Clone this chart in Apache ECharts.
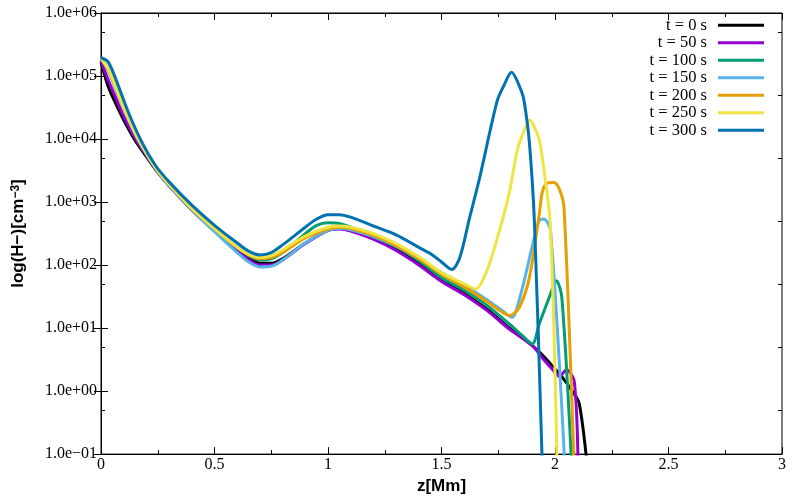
<!DOCTYPE html>
<html>
<head>
<meta charset="utf-8">
<script src="https://cdn.jsdelivr.net/npm/echarts@6/dist/echarts.min.js"></script>
<style>
  html, body { margin: 0; padding: 0; background: #fff; }
  #chart { width: 800px; height: 500px; }
</style>
</head>
<body>
<div id="chart"></div>
<script>
  // z [Mm] and H- density [cm^-3] per time step
  var names = ['t = 0 s', 't = 50 s', 't = 100 s', 't = 150 s', 't = 200 s', 't = 250 s', 't = 300 s'];
  var colors = ['#000000', '#9400d3', '#009e73', '#56b4e9', '#e69f00', '#f0e442', '#0072b2'];

  var z0 = [0, 0.03, 0.06, 0.1, 0.15, 0.2, 0.25, 0.3, 0.4, 0.5, 0.6, 0.65, 0.7, 0.75, 0.8, 0.9, 1.0, 1.05, 1.1, 1.2, 1.3, 1.4, 1.5, 1.6, 1.7, 1.8, 1.9, 1.95, 2.0, 2.03, 2.07, 2.107, 2.15];
  var n0 = [1.66e5, 7.08e4, 3.98e4, 2.0e4, 9.55e3, 5.25e3, 2.95e3, 1.82e3, 759, 355, 178, 132, 107, 107, 126, 224, 355, 380, 355, 263, 178, 105, 57.5, 35.5, 20.0, 10.0, 5.25, 3.55, 2.24, 1.70, 1.07, 0.63, 0.032];

  var z1 = [0, 0.03, 0.06, 0.1, 0.15, 0.2, 0.25, 0.3, 0.4, 0.5, 0.6, 0.65, 0.7, 0.75, 0.8, 0.9, 1.0, 1.05, 1.1, 1.2, 1.3, 1.4, 1.5, 1.6, 1.7, 1.8, 1.9, 1.95, 1.99, 2.02, 2.05, 2.085, 2.102];
  var n1 = [1.78e5, 8.91e4, 5.01e4, 2.29e4, 1.05e4, 5.50e3, 3.02e3, 1.82e3, 759, 347, 170, 123, 100, 100, 120, 219, 355, 372, 347, 257, 170, 100, 55.0, 33.9, 19.1, 9.55, 5.25, 3.16, 2.19, 1.70, 2.19, 1.41, 0.05];

  var z2 = [0, 0.03, 0.06, 0.1, 0.15, 0.2, 0.25, 0.3, 0.4, 0.5, 0.6, 0.65, 0.7, 0.75, 0.8, 0.9, 0.95, 1.0, 1.05, 1.1, 1.2, 1.3, 1.4, 1.5, 1.6, 1.7, 1.8, 1.85, 1.9, 1.93, 1.975, 2.006, 2.03, 2.075];
  var n2 = [1.91e5, 1.26e5, 7.08e4, 3.16e4, 1.26e4, 6.03e3, 3.16e3, 1.91e3, 794, 372, 191, 141, 120, 126, 158, 316, 427, 468, 457, 398, 282, 195, 117, 63.1, 39.8, 22.9, 11.5, 7.94, 5.62, 11.5, 30.9, 56.2, 30.9, 0.05];

  var z3 = [0, 0.03, 0.06, 0.1, 0.15, 0.2, 0.25, 0.3, 0.4, 0.5, 0.6, 0.65, 0.7, 0.75, 0.8, 0.9, 1.0, 1.05, 1.1, 1.2, 1.3, 1.4, 1.5, 1.6, 1.7, 1.77, 1.81, 1.85, 1.9, 1.93, 1.95, 1.98, 2.045];
  var n3 = [1.91e5, 1.26e5, 7.08e4, 3.02e4, 1.20e4, 5.75e3, 3.02e3, 1.82e3, 759, 339, 158, 112, 93.3, 95.5, 120, 224, 355, 380, 363, 282, 200, 126, 75.9, 47.9, 28.2, 18.6, 14.8, 35.5, 200, 501, 537, 363, 0.05];

  var z4 = [0, 0.03, 0.06, 0.1, 0.15, 0.2, 0.25, 0.3, 0.4, 0.5, 0.6, 0.65, 0.7, 0.75, 0.8, 0.9, 1.0, 1.05, 1.1, 1.2, 1.3, 1.4, 1.5, 1.6, 1.7, 1.76, 1.8, 1.843, 1.887, 1.93, 1.945, 1.966, 1.995, 2.02, 2.04, 2.085];
  var n4 = [1.91e5, 1.32e5, 7.59e4, 3.16e4, 1.26e4, 6.03e3, 3.16e3, 1.91e3, 794, 380, 191, 145, 126, 132, 158, 269, 372, 398, 380, 295, 204, 126, 70.8, 44.7, 26.3, 18.6, 15.8, 21.4, 63.1, 617, 1.48e3, 2.0e3, 2.04e3, 1.58e3, 794, 0.05];

  var z5 = [0, 0.03, 0.06, 0.1, 0.15, 0.2, 0.25, 0.3, 0.4, 0.5, 0.6, 0.65, 0.7, 0.75, 0.8, 0.9, 1.0, 1.05, 1.1, 1.2, 1.3, 1.4, 1.5, 1.6, 1.65, 1.7, 1.755, 1.8, 1.835, 1.874, 1.89, 1.91, 1.93, 1.95, 1.98, 2.01];
  var n5 = [1.91e5, 1.32e5, 7.41e4, 3.16e4, 1.26e4, 6.03e3, 3.16e3, 1.91e3, 794, 380, 191, 148, 132, 141, 174, 288, 398, 417, 398, 316, 219, 135, 75.9, 50.1, 41.7, 81.3, 347, 1.48e3, 6.92e3, 1.66e4, 2.0e4, 1.51e4, 1.0e4, 3.55e3, 398, 0.05];

  var z6 = [0, 0.03, 0.06, 0.12, 0.18, 0.24, 0.3, 0.4, 0.5, 0.6, 0.65, 0.7, 0.75, 0.8, 0.9, 0.95, 1.0, 1.05, 1.1, 1.2, 1.3, 1.4, 1.46, 1.5, 1.545, 1.58, 1.623, 1.667, 1.745, 1.775, 1.808, 1.852, 1.865, 1.887, 1.91, 1.945];
  var n6 = [1.95e5, 1.70e5, 1.0e5, 2.69e4, 8.91e3, 3.80e3, 2.09e3, 891, 427, 224, 166, 145, 158, 209, 398, 537, 631, 631, 575, 417, 302, 191, 145, 112, 85.1, 129, 550, 2.34e3, 3.98e4, 7.08e4, 1.15e5, 5.75e4, 3.80e4, 8.91e3, 427, 0.05];

  var minorY = [0.5, 5, 50, 500, 5e3, 5e4, 5e5];

  var zs = [z0, z1, z2, z3, z4, z5, z6];
  var ns = [n0, n1, n2, n3, n4, n5, n6];

  var serif = 'Liberation Serif';
  var sans = 'Liberation Sans';

  function pairs(z, n) {
    var out = [];
    z.forEach(function (v, i) { out.push([v, n[i]]); });
    return out;
  }

  function expLabel(v) {
    var e = Math.round(Math.log10(v));
    var s = String(Math.abs(e));
    if (s.length < 2) s = '0' + s;
    return '1.0e' + (e < 0 ? '\u2212' : '+') + s;
  }

  var series = names.map(function (name, i) {
    return {
      type: 'line',
      name: name,
      data: pairs(zs[i], ns[i]),
      showSymbol: false,
      smooth: 0.3,
      animation: false,
      clip: true,
      lineStyle: { color: colors[i], width: 3 },
      itemStyle: { color: colors[i] }
    };
  });

  var xBase = {
    type: 'value', min: 0, max: 3, interval: 0.5,
    axisLine: { show: true, lineStyle: { color: '#000', width: 1 } },
    axisTick: { show: true, inside: true, length: 7, lineStyle: { color: '#000' } },
    minorTick: { show: true, splitNumber: 2, length: 4, lineStyle: { color: '#000' } },
    splitLine: { show: false }
  };

  var yBase = {
    type: 'log', logBase: 10, min: 0.1, max: 1e6, interval: 1,
    axisLine: { show: true, lineStyle: { color: '#000', width: 1 } },
    axisTick: { show: true, inside: true, length: 7, lineStyle: { color: '#000' } },
    splitLine: { show: false }
  };

  var chart = echarts.init(document.getElementById('chart'));

  chart.setOption({
    backgroundColor: '#fff',
    animation: false,
    grid: { left: 101, right: 18, top: 13, bottom: 42, show: true, borderColor: '#000', borderWidth: 1 },
    legend: {
      data: names,
      orient: 'vertical',
      right: 36,
      top: 16.5,
      padding: 0,
      itemGap: 0,
      align: 'right',
      icon: 'rect',
      itemWidth: 46,
      itemHeight: 3,
      textStyle: { fontFamily: serif, fontSize: 16.5, color: '#000', lineHeight: 17.5, padding: [0, 6, 0, 0] }
    },
    xAxis: [
      Object.assign({}, xBase, {
        position: 'bottom',
        name: 'z[Mm]',
        nameLocation: 'middle',
        nameGap: 18,
        nameTextStyle: { fontFamily: sans, fontWeight: 'bold', fontSize: 17, color: '#000' },
        axisLabel: { show: true, margin: 3, fontFamily: serif, fontSize: 16, color: '#000' }
      }),
      Object.assign({}, xBase, { position: 'top', axisLabel: { show: false } })
    ],
    yAxis: [
      Object.assign({}, yBase, {
        position: 'left',
        name: 'log(H\u2212)[cm{sup|\u22123}]',
        nameLocation: 'middle',
        nameGap: 74,
        nameTextStyle: {
          fontFamily: sans, fontWeight: 'bold', fontSize: 17, color: '#000',
          rich: { sup: { fontFamily: sans, fontWeight: 'bold', fontSize: 12, color: '#000', verticalAlign: 'top', lineHeight: 12 } }
        },
        axisLabel: { show: true, margin: 4, fontFamily: serif, fontSize: 16, color: '#000', formatter: expLabel, showMinLabel: true, showMaxLabel: true }
      }),
      Object.assign({}, yBase, { position: 'right', axisLabel: { show: false } }),
      Object.assign({}, yBase, {
        position: 'left', axisLine: { show: false }, axisLabel: { show: false },
        axisTick: { show: true, inside: true, length: 4, customValues: minorY, lineStyle: { color: '#000' } }
      }),
      Object.assign({}, yBase, {
        position: 'right', axisLine: { show: false }, axisLabel: { show: false },
        axisTick: { show: true, inside: true, length: 4, customValues: minorY, lineStyle: { color: '#000' } }
      })
    ],
    series: series
  });
</script>
</body>
</html>
